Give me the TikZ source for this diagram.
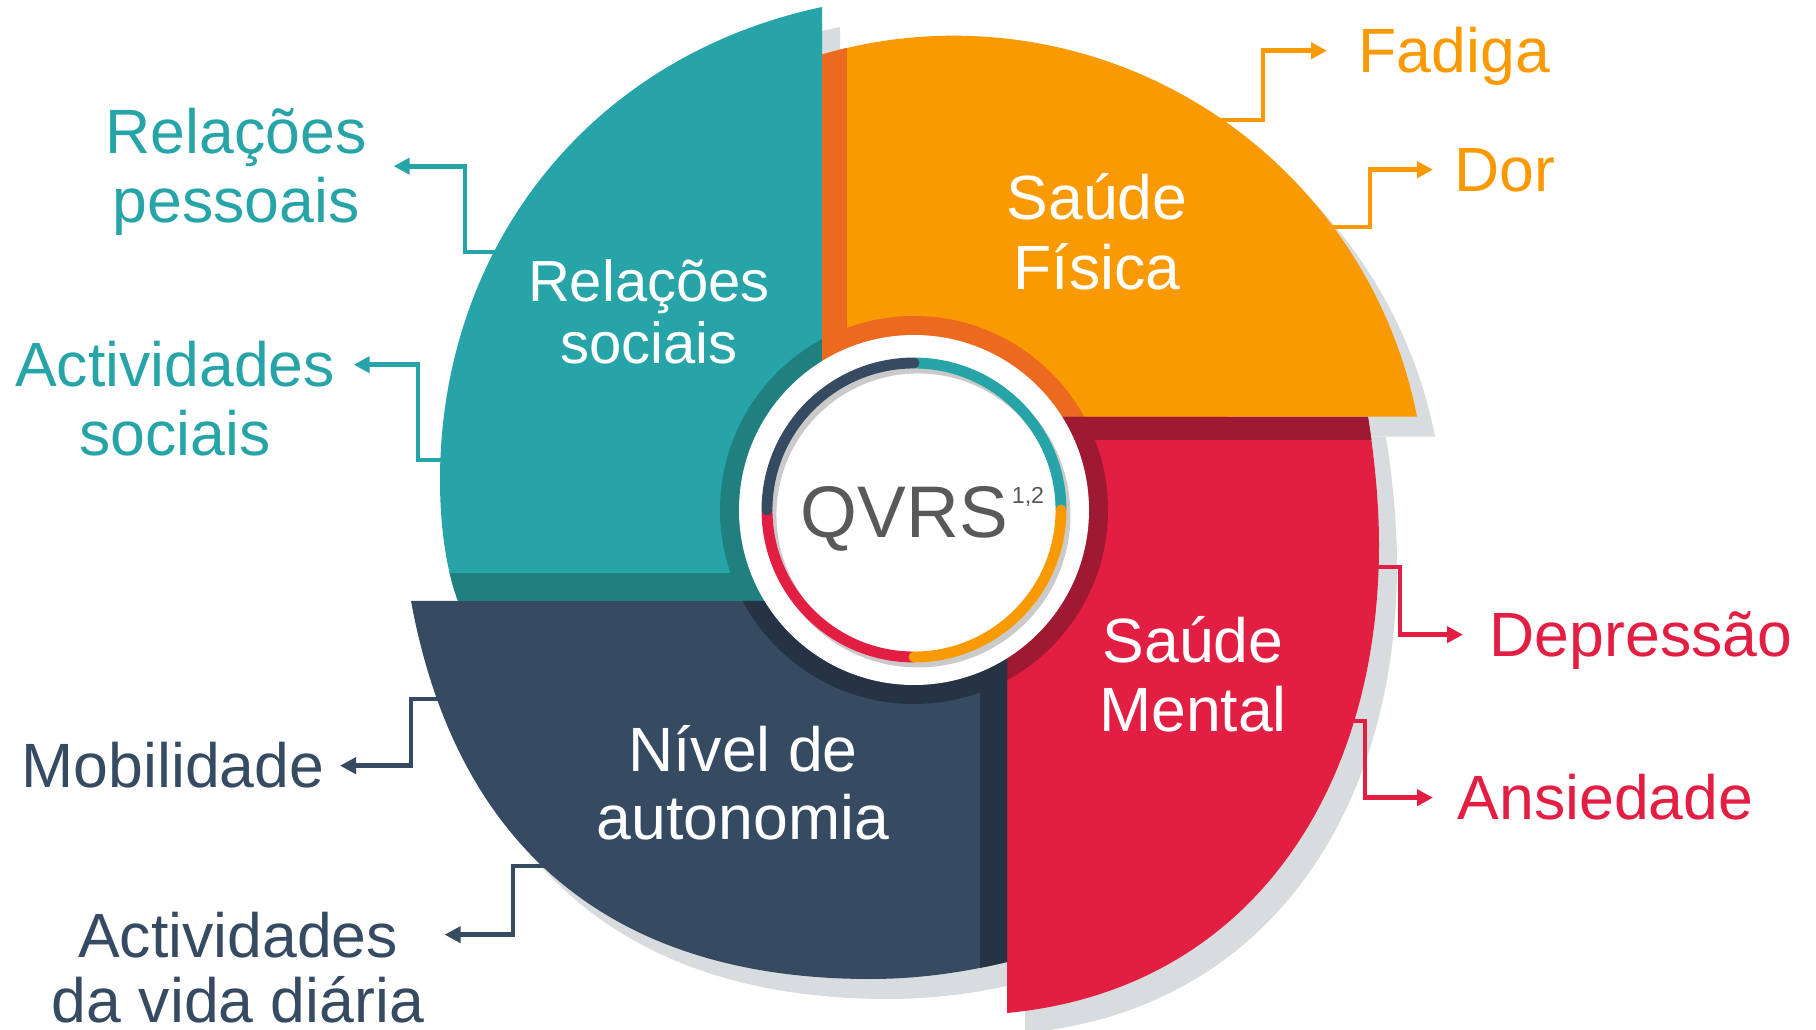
\documentclass[tikz,border=0pt]{standalone}
\usepackage{fontspec}
\setmainfont{Liberation Sans}
\usetikzlibrary{arrows.meta,calc}
\definecolor{Ink}{HTML}{595959}
\definecolor{Teal}{HTML}{27A4A7}
\definecolor{TealDeep}{HTML}{1F807F}
\definecolor{Orange}{HTML}{FA9A02}
\definecolor{OrangeDeep}{HTML}{EB6A1F}
\definecolor{Crimson}{HTML}{E31E43}
\definecolor{CrimsonDeep}{HTML}{9E1931}
\definecolor{Navy}{HTML}{364A62}
\definecolor{NavyDeep}{HTML}{253345}
\definecolor{ShadowGray}{HTML}{D8DCDF}
\definecolor{RingGray}{HTML}{CACACA}
\newcommand\lblfont{\fontsize{17.8pt}{20pt}\selectfont}
\newcommand\smallsegfont{\fontsize{16.5pt}{19pt}\selectfont}
\newcommand\qvrsfont{\fontsize{20.8pt}{23pt}\selectfont}
\newcommand\supfont{\fontsize{6.6pt}{7pt}\selectfont}
% quarter outlines (pixel units, y pointing down)
\newcommand\tealOutline{(822,601) -- (458,601) .. controls (447,572) and (440,530) .. (440,480) .. controls (440,250) and (587,57) .. (822,7) -- cycle}
\newcommand\orangeOutline{(822,417) -- (822,54.5) arc[start angle=-106.23,end angle=-11.12,radius=472] -- cycle}
\newcommand\redOutline{(1007,417) -- (1368,417) .. controls (1374,455) and (1379,500) .. (1379,545) .. controls (1379,790) and (1250,990) .. (1007,1013) -- cycle}
\newcommand\navyOutline{(1007,601) -- (411,601) .. controls (456,846) and (610,979) .. (870,979) .. controls (920,979) and (965,972) .. (1007,962) -- cycle}
\tikzset{
  lbl/.style={font=\lblfont,inner sep=0pt,text height=12.7pt,text depth=0pt},
  segtext/.style={lbl,text=white},
  link/.style={line width=1.4pt,-{Triangle[length=1.6mm,width=1.6mm]}},
  ringarc/.style={line width=3.1pt},
  drop/.style={fill=ShadowGray,shift={(18,20)}}
}
\begin{document}
\begin{tikzpicture}[x=0.1mm,y=-0.1mm]
  \useasboundingbox (0,0) rectangle (1816,1030);
  \coordinate (hub) at (914,510);
  % drop shadows
  \fill[drop] \tealOutline;
  \fill[drop] \orangeOutline;
  \fill[drop] \redOutline;
  \fill[drop] \navyOutline;
  % quarters
  \fill[Teal] \tealOutline;
  \fill[Orange] \orangeOutline;
  \fill[Crimson] \redOutline;
  \fill[Navy] \navyOutline;
  % darker inner bands
  \begin{scope}
    \clip \tealOutline;
    \fill[TealDeep] (hub) circle[radius=194];
    \fill[TealDeep] (400,573) rectangle (830,610);
  \end{scope}
  \begin{scope}
    \clip \orangeOutline;
    \fill[OrangeDeep] (hub) circle[radius=194];
    \fill[OrangeDeep] (815,0) rectangle (847,420);
  \end{scope}
  \begin{scope}
    \clip \redOutline;
    \fill[CrimsonDeep] (hub) circle[radius=194];
    \fill[CrimsonDeep] (1000,410) rectangle (1400,440);
  \end{scope}
  \begin{scope}
    \clip \navyOutline;
    \fill[NavyDeep] (hub) circle[radius=194];
    \fill[NavyDeep] (980,590) rectangle (1012,1000);
  \end{scope}
  % hub
  \fill[white] (hub) circle[radius=175];
  \draw[RingGray,ringarc] ($(hub)+(4,5)$) circle[radius=147];
  \foreach \col/\a in {Teal/0,Crimson/-180}
    \draw[\col,ringarc] (hub) ++(\a:147) arc[start angle=\a,end angle=\a-90,radius=147];
  \foreach \col/\a in {Navy/-90,Orange/-270}
    \draw[\col,ringarc,line cap=round] (hub) ++(\a:147) arc[start angle=\a,end angle=\a-90,radius=147];
  \node[font=\qvrsfont,text=Ink,inner sep=0pt,anchor=base west] (qvrs) at (800,538) {QVRS\kern0.4mm\raisebox{3.4mm}{\supfont 1,2}};
  % quarter titles
  \node[segtext,font=\smallsegfont,anchor=base] (relSocA) at (649,302) {Relações};
  \node[segtext,font=\smallsegfont,anchor=base] (relSocB) at (649,364) {sociais};
  \node[segtext,anchor=base] (fisA) at (1097,220) {Saúde};
  \node[segtext,anchor=base] (fisB) at (1097,290) {Física};
  \node[segtext,anchor=base] (menA) at (1193,663) {Saúde};
  \node[segtext,anchor=base] (menB) at (1193,731) {Mental};
  \node[segtext,anchor=base] (autA) at (743,772) {Nível de};
  \node[segtext,anchor=base] (autB) at (743,840) {autonomia};
  % outer labels
  \node[lbl,text=Orange,anchor=base west] (fadiga) at (1358,73) {Fadiga};
  \node[lbl,text=Orange,anchor=base west] (dor) at (1454,192) {Dor};
  \node[lbl,text=Crimson,anchor=base west] (depressao) at (1489,657) {Depressão};
  \node[lbl,text=Crimson,anchor=base west] (ansiedade) at (1457,820) {Ansiedade};
  \node[lbl,text=Teal,anchor=base] (relPesA) at (236,154) {Relações};
  \node[lbl,text=Teal,anchor=base] (relPesB) at (236,223) {pessoais};
  \node[lbl,text=Teal,anchor=base] (actSocA) at (175,387) {Actividades};
  \node[lbl,text=Teal,anchor=base] (actSocB) at (175,456) {sociais};
  \node[lbl,text=Navy,anchor=base east] (mobil) at (325,788) {Mobilidade};
  \node[lbl,text=Navy,anchor=base] (actVidA) at (238,957) {Actividades};
  \node[lbl,text=Navy,anchor=base] (actVidB) at (238,1022) {da vida diária};
  % connectors
  \coordinate (fadigaFrom) at (1215,120);
  \coordinate (dorFrom) at (1328,227);
  \coordinate (depressaoFrom) at (1374,567);
  \coordinate (ansiedadeFrom) at (1343,721);
  \coordinate (relPesFrom) at (497,252);
  \coordinate (actSocFrom) at (444,460);
  \coordinate (mobilFrom) at (441,699);
  \coordinate (actVidFrom) at (549,866);
  \draw[link,Orange] (fadigaFrom) -- ++(48,0) |- ([xshift=-3.1mm]fadiga.west);
  \draw[link,Orange] (dorFrom) -- ++(42,0) |- ([xshift=-2.1mm]dor.west);
  \draw[link,Crimson] (depressaoFrom) -- ++(26,0) |- ([xshift=-2.6mm]depressao.west);
  \draw[link,Crimson] (ansiedadeFrom) -- ++(22,0) |- ([xshift=-2.4mm]ansiedade.west);
  \draw[link,Teal] (relPesFrom) -- ++(-32,0) |- ($(relPesA.east)!.5!(relPesB.east)+(30,0)$);
  \draw[link,Teal] (actSocFrom) -- ++(-26,0) |- ([xshift=1.8mm]actSocA.east);
  \draw[link,Navy] (mobilFrom) -- ++(-30,0) |- ([xshift=1.5mm]mobil.east);
  \draw[link,Navy] (actVidFrom) -- ++(-36,0) |- ([xshift=4.6mm]actVidA.east);
\end{tikzpicture}
\end{document}
